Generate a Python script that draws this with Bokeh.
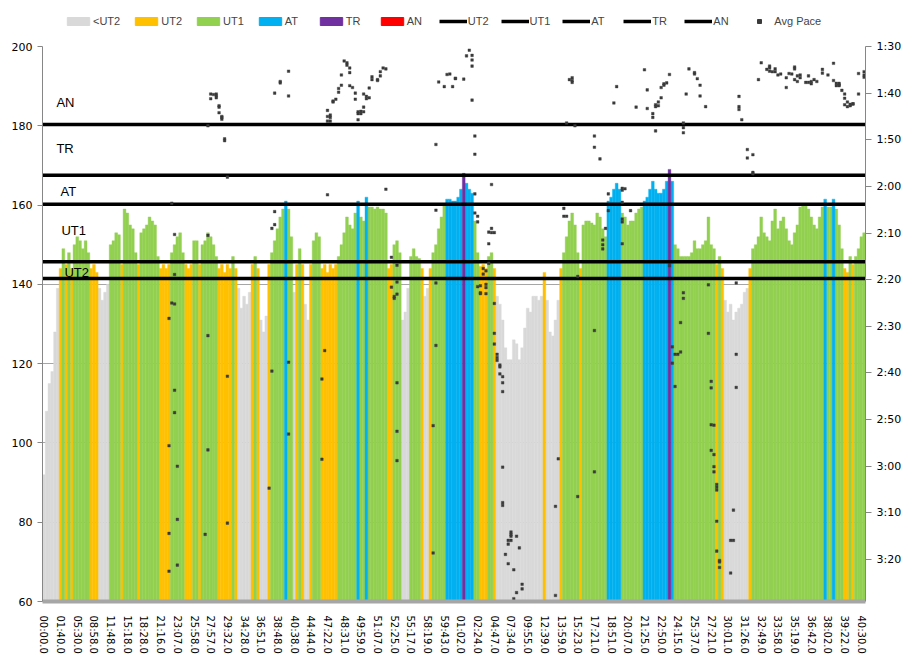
import numpy as np
from bokeh.plotting import figure
from bokeh.layouts import column
from bokeh.models import (ColumnDataSource, Range1d, LinearAxis, FixedTicker,
                          Legend, LegendItem, Label)
from bokeh.embed import file_html
from bokeh.resources import INLINE

# ---------------- data ----------------
heart_rate = [
    92, 108, 115, 118, 128, 139, 144, 149, 145, 148,
    144, 150, 152, 151, 149, 151, 148, 144, 145, 143,
    139, 136, 138, 140, 150, 151, 153, 152.5, 145, 159,
    158, 155, 154, 148, 145, 153, 154, 155, 157, 156,
    155, 147, 144, 145, 144, 145, 148, 150, 152, 153,
    148, 145, 144, 145, 151, 151, 145, 150, 151, 153,
    152, 150, 147, 144, 145, 143, 145, 144, 147, 144,
    139, 134, 137, 135, 138, 145, 147, 144, 131, 128,
    132, 145, 148, 151, 154, 157, 159, 161, 159, 152,
    138, 145, 149, 145, 135, 131, 145, 151, 153, 152,
    144, 145, 143, 145, 144, 145, 147, 150, 153, 157,
    155, 154, 158, 161, 157, 156, 162, 159.5, 159.5, 159,
    159.5, 159, 159, 158, 144, 145, 150, 151, 148, 131,
    133, 139, 147, 149, 147, 146.5, 144, 137, 139, 144,
    148, 150, 154, 157, 160, 161.5, 161.5, 161, 161, 162,
    164, 168, 165.5, 164, 163, 156, 148, 144.5, 145, 144,
    147, 148, 144, 137, 135, 131, 124, 121, 121, 126,
    125, 121, 124, 129, 134, 133, 137, 137, 136, 137,
    143, 136, 128, 127, 131, 136, 144, 148, 152, 156,
    158, 155, 148, 144, 155, 156, 156, 155.5, 155, 158,
    157, 154, 152, 161, 162, 164, 165.5, 164, 158, 157,
    155, 156, 156, 158, 159, 159.5, 161, 162, 164, 166,
    164, 163, 163, 164, 166, 169, 166, 150, 149, 147,
    147, 147, 147, 148, 151, 149, 149, 150, 151, 157,
    150, 149, 145, 147, 144, 136, 133, 135, 131, 133,
    134, 135, 138, 139, 144, 149, 150, 152, 157, 153,
    152, 151, 156, 159, 154, 156, 157, 154, 151, 150,
    153, 155, 159.5, 160, 160, 159, 157, 155, 154, 157,
    159.5, 161.5, 159.5, 159.5, 161.5, 159, 155, 149, 144, 143,
    147, 145, 147, 149, 152, 153,
]

time_labels = [
    "00:00.0", "01:40.0", "05:30.0", "08:58.0", "11:48.0", "15:18.0", "18:28.0",
    "21:16.0", "23:07.0", "25:58.0", "27:57.0", "29:32.0", "34:28.0", "36:51.0",
    "38:48.0", "40:38.0", "44:44.0", "47:22.0", "48:31.0", "49:59.0", "51:07.0",
    "52:25.0", "55:17.0", "58:19.0", "59:43.0", "01:02.0", "02:24.0", "04:47.0",
    "07:34.0", "09:55.0", "12:39.0", "13:59.0", "15:23.0", "17:21.0", "18:51.0",
    "20:07.0", "21:25.0", "22:50.0", "24:15.0", "25:37.0", "27:21.0", "30:01.0",
    "31:26.0", "32:49.0", "33:58.0", "35:19.0", "36:42.0", "38:02.0", "39:22.0",
    "40:30.0",
]
label_every = 6

zone_names = ["<UT2", "UT2", "UT1", "AT", "TR", "AN"]
zone_colors = ["#d9d9d9", "#ffc000", "#92d050", "#00b0f0", "#7030a0", "#ff0000"]

threshold_names = ["UT2", "UT1", "AT", "TR", "AN"]
threshold_hr = [141.5, 145.7, 160.2, 167.5, 180.3]

# (sample index, pace in seconds per 500 m)
avg_pace = [
    (46,123.6),(47,130.3),(47,138.9),(46,145.0),(47,145.2),(45,148.3),(47,163.7),(47,168.5),
    (45,175.6),(48,180.0),(48,191.4),(45,194.4),(48,201.2),(45,202.5),
    (60,101.2),(60,100.2),(61,100.3),(62,100.2),(62,100.6),(62,101.0),(63,102.7),(63,103.0),
    (63,104.2),(64,105.0),(64,105.2),(64,105.6),(59,107.0),(65,109.8),(65,110.2),(66,118.0),
    (59,130.5),(59,152.0),(66,160.7),(59,176.5),(66,192.2),(58,194.6),(83,100.0),(85,97.5),
    (85,97.8),(88,95.3),(88,100.6),(83,125.4),(83,128.2),(82,129.0),(82,159.6),(88,157.7),
    (88,173.1),(81,184.7),
    (108,93.1),(109,93.5),(109,94.0),(110,94.6),(110,95.6),(107,96.1),(107,98.3),(106,99.0),
    (106,99.8),(105,101.3),(104,101.7),(104,101.9),(103,104.7),(103,105.2),(102,105.0),(103,106.0),
    (102,103.7),(102,106.0),(110,98.4),(111,98.8),(112,100.0),(112,101.3),(113,104.0),(113,104.4),
    (113,105.7),(114,103.9),(114,104.4),(115,104.0),(115,103.0),(115,100.2),(116,100.7),(116,101.2),
    (117,101.0),(117,98.9),(118,97.1),(118,96.5),(120,97.1),(120,97.3),(121,96.3),(121,95.4),
    (122,94.6),(123,94.8),(123,120.6),(102,121.8),(141,111.0),(141,125.1),(142,97.6),(144,98.6),
    (145,96.0),(146,95.9),(147,98.6),(148,96.8),(125,135.2),(127,136.9),(127,140.5),(127,143.1),
    (125,141.6),(126,144.0),(126,143.6),(127,162.1),(127,172.5),(127,178.8),(101,155.2),(100,161.3),
    (100,178.5),(141,140.7),(141,154.1),(140,171.3),(140,198.6),
    (153,90.8),(152,92.0),(154,91.9),(154,92.9),(154,94.2),(148,96.9),(151,97.0),(154,101.5),
    (155,109.2),(155,113.1),(161,119.6),(155,121.6),(155,125.7),(156,126.4),(156,127.6),(161,129.0),
    (160,129.8),(161,129.9),(162,129.9),(160,132.3),(158,137.6),(159,138.1),(158,138.8),(159,141.7),
    (156,141.5),(157,141.3),(159,141.0),(157,142.8),(157,143.0),(159,143.0),(160,136.5),(162,145.1),
    (162,151.5),(162,153.8),(163,156.0),(163,156.7),(163,157.3),(164,158.3),(164,158.7),(164,160.2),
    (165,160.8),(165,162.1),(165,164.0),(165,180.2),(165,187.8),(165,188.4),(168,194.1),(168,194.6),
    (168,195.0),(170,195.0),(167,195.9),(168,195.9),(167,196.7),(171,197.5),(166,198.9),(167,200.9),
    (169,202.2),(172,205.3),(172,206.3),(170,207.1),(169,208.4),(185,178.4),(184,188.6),(184,207.7),
    (188,106.4),(191,107.0),(189,97.1),(190,97.7),(190,96.7),(190,97.3),(198,109.2),(187,124.7),
    (187,126.4),(188,126.4),(192,139.3),(198,150.9),(198,181.2),(192,186.5),
    (216,95.0),(206,98.6),(205,102.1),(213,103.0),(217,99.3),(217,103.3),(219,105.2),(219,104.4),
    (220,102.9),(220,102.5),(221,101.9),(221,102.7),(222,101.0),(222,98.8),(223,98.3),(223,98.0),
    (224,97.8),(225,96.0),(220,108.1),(232,94.8),(234,95.6),(234,95.9),(235,96.9),(236,98.3),
    (236,100.6),(231,100.2),(238,102.9),(230,106.4),(230,107.4),(230,108.5),(198,111.6),(200,114.1),
    (203,121.6),(208,120.4),(209,120.5),(208,120.8),(203,125.2),(208,123.4),(208,127.6),(208,127.0),
    (211,125.2),(202,129.0),(201,131.5),(201,132.5),(201,133.4),(208,132.3),(225,137.0),(230,142.8),
    (230,144.0),(239,141.1),(229,149.2),(239,151.5),(226,154.4),(227,156.0),(228,156.0),(229,155.5),
    (226,157.9),(227,162.9),(240,161.8),(240,163.2),(240,171.1),(241,171.2),(240,176.6),(241,177.5),
    (241,180.1),(241,181.2),(242,183.9),(242,184.5),(242,185.1),(242,191.8),(242,198.2),(243,200.2),
    (243,200.5),(243,201.7),(247,195.9),(247,202.9),
    (250,100.7),(250,102.9),(250,103.5),(251,105.7),(253,112.1),(253,113.9),(255,113.2),(255,117.0),
    (255,117.3),(258,93.5),(261,94.2),(261,94.6),(260,94.9),(261,95.3),(257,97.1),(262,95.4),
    (263,94.8),(264,96.1),(263,95.4),(265,95.9),(267,98.8),(267,96.7),(268,95.8),(269,95.9),
    (270,94.4),(270,94.8),(270,97.1),(271,96.3),(272,96.1),(272,96.7),(271,97.5),(274,97.7),
    (275,97.7),(275,96.3),(276,98.0),(276,97.5),(277,97.1),(278,97.5),(280,94.9),(280,95.7),
    (282,96.1),(284,93.6),(284,97.3),(285,98.4),(285,97.9),(286,98.2),(286,97.9),(286,98.4),
    (287,99.4),(288,100.2),(288,101.1),(288,102.5),(289,102.9),(289,101.9),(290,102.4),(290,102.7),
    (291,102.3),(291,102.3),(293,100.2),(293,95.8),(295,96.1),(295,95.4),(295,96.6),(249,140.7),
    (249,156.0),(249,163.1),(248,189.4),(248,195.9),
]

hr_ticks = [60, 80, 100, 120, 140, 160, 180, 200]
pace_ticks = [90, 100, 110, 120, 130, 140, 150, 160, 170, 180, 190, 200]
pace_tick_labels = ["1:30", "1:40", "1:50", "2:00", "2:10", "2:20", "2:30",
                    "2:40", "2:50", "3:00", "3:10", "3:20"]
pace_bottom = 209.0

# ---------------- main chart ----------------
N = len(heart_rate)
xr = Range1d(-0.5, N - 0.5)
p = figure(frame_width=823, frame_height=555, output_backend="svg", toolbar_location=None,
           x_range=xr, y_range=Range1d(60, 200),
           min_border_left=42, min_border_right=43, min_border_top=10,
           min_border_bottom=57)
p.extra_y_ranges = {"pace": Range1d(start=pace_bottom, end=pace_ticks[0])}
p.outline_line_color = None
p.background_fill_color = "white"
p.border_fill_color = "white"

hr = np.array(heart_rate, dtype=float)
idx = np.arange(N, dtype=float)
zone = np.searchsorted(np.array(threshold_hr), hr, side="right")

for z, col in enumerate(zone_colors):
    m = zone == z
    if m.any():
        src = ColumnDataSource(dict(x=idx[m], top=hr[m]))
        p.vbar(x="x", top="top", bottom=60, width=1.0, source=src,
               fill_color=col, line_color=col, line_width=0.4)

for v in threshold_hr:
    p.line(x=[xr.start, xr.end], y=[v, v], line_color="black", line_width=3.5)

pace_x = [a for a, b in avg_pace]
pace_y = [b for a, b in avg_pace]
p.scatter(x=pace_x, y=pace_y, y_range_name="pace", marker="square",
          size=2.6, fill_color="#3a3a3a", line_color="#3a3a3a", line_width=0.4)

# zone labels inside plot
for txt, xx, yy in [("AN", 4.5, 185.9), ("TR", 4.5, 174.3), ("AT", 6.0, 163.4),
                    ("UT1", 6.3, 153.6), ("UT2", 7.4, 143.0)]:
    p.add_layout(Label(x=xx, y=yy, text=txt, text_font="Liberation Sans",
                       text_font_size="13px", text_baseline="middle",
                       text_align="left", text_color="black"))

ax_col = "#868686"
p.yaxis.ticker = FixedTicker(ticks=hr_ticks)
p.yaxis.axis_line_color = ax_col
p.yaxis.major_tick_line_color = ax_col
p.yaxis.major_tick_out = 5
p.yaxis.major_tick_in = 0
p.yaxis.minor_tick_line_color = None
p.yaxis.major_label_standoff = 5
p.yaxis.major_label_text_font = "DejaVu Sans"
p.yaxis.major_label_text_font_size = "11px"
p.yaxis.major_label_text_color = "black"

right = LinearAxis(y_range_name="pace", ticker=FixedTicker(ticks=pace_ticks),
                   major_label_overrides={t: l for t, l in zip(pace_ticks, pace_tick_labels)})
right.axis_line_color = ax_col
right.major_tick_line_color = ax_col
right.major_tick_out = 6
right.major_tick_in = 0
right.minor_tick_line_color = None
right.major_label_standoff = 5
right.major_label_text_font = "DejaVu Sans"
right.major_label_text_font_size = "11px"
right.major_label_text_color = "black"
p.add_layout(right, "right")

xt = list(range(0, N, label_every))[:len(time_labels)]
p.xaxis.ticker = FixedTicker(ticks=xt)
p.xaxis.major_label_overrides = {t: l for t, l in zip(xt, time_labels)}
p.xaxis.major_label_orientation = "vertical"
p.xaxis.axis_line_color = "#a6a6a6"
p.xaxis.axis_line_width = 4
p.xaxis.major_tick_line_color = None
p.xaxis.minor_tick_line_color = None
p.xaxis.major_label_standoff = 8
p.xaxis.major_label_text_font = "DejaVu Sans"
p.xaxis.major_label_text_font_size = "10px"
p.xaxis.major_label_text_color = "black"

p.xgrid.visible = False
p.ygrid.ticker = FixedTicker(ticks=hr_ticks)
p.ygrid.grid_line_color = "#a6a6a6"
p.ygrid.grid_line_width = 1

# ---------------- legend strip above the chart ----------------
lg = figure(width=908, height=36, output_backend="svg", toolbar_location=None,
            x_range=Range1d(0, 1), y_range=Range1d(0, 1),
            min_border=0, x_axis_type=None, y_axis_type=None)
lg.outline_line_color = None
lg.grid.visible = False
lg.border_fill_color = "white"

nan = [float("nan")]
items = []
for name, col in zip(zone_names, zone_colors):
    r = lg.vbar(x=nan, top=nan, bottom=0, width=1, fill_color=col, line_color=col)
    items.append(LegendItem(label=name, renderers=[r]))
for name in threshold_names:
    r = lg.line(x=nan, y=nan, line_color="black", line_width=3.5)
    items.append(LegendItem(label=name, renderers=[r]))
r = lg.scatter(x=nan, y=nan, marker="square", size=2,
               fill_color="#3a3a3a", line_color="#3a3a3a")
items.append(LegendItem(label="Avg Pace", renderers=[r]))

legend = Legend(items=items, orientation="horizontal", location=(22, 9),
                glyph_width=28, glyph_height=10, label_standoff=1, spacing=12,
                padding=2, margin=0, label_height=12,
                label_text_font="Liberation Sans", label_text_font_size="11px",
                border_line_color=None, background_fill_alpha=0)
lg.add_layout(legend, "center")

layout = column(lg, p, spacing=0)
open("out.html", "w").write(file_html(layout, INLINE))
